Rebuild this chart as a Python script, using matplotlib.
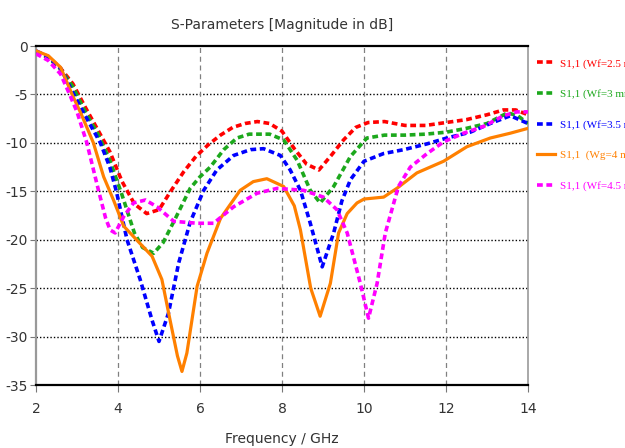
import matplotlib
matplotlib.use("Agg")
import matplotlib.pyplot as plt

# S11 curves (frequency in GHz, magnitude in dB)
f_wf25 = [2.0, 2.3, 2.6, 2.9, 3.2, 3.5, 3.8, 4.1, 4.4, 4.7, 5.0, 5.3, 5.6, 5.9, 6.2, 6.5, 6.8, 7.1,
          7.4, 7.7, 8.0, 8.3, 8.6, 8.9, 9.2, 9.5, 9.8, 10.1, 10.5, 11.0, 11.5, 12.0, 12.5, 13.0,
          13.4, 13.7, 14.0]
s_wf25 = [-0.6, -1.2, -2.3, -3.9, -6.3, -8.6, -10.9, -14.0, -16.3, -17.3, -16.9, -14.9, -13.0,
          -11.4, -10.2, -9.2, -8.4, -8.0, -7.8, -8.0, -8.8, -10.6, -12.2, -12.8, -11.3, -9.7,
          -8.4, -7.9, -7.8, -8.2, -8.2, -7.9, -7.6, -7.1, -6.6, -6.6, -7.1]

f_wf3 = [2.0, 2.3, 2.6, 2.9, 3.2, 3.5, 3.8, 4.1, 4.4, 4.6, 4.87, 5.1, 5.4, 5.76, 6.0, 6.25, 6.58,
         6.9, 7.2, 7.7, 8.04, 8.37, 8.69, 8.93, 9.26, 9.67, 10.07, 10.5, 11.0, 11.5, 12.0, 12.5,
         13.0, 13.5, 13.75, 14.0]
s_wf3 = [-0.6, -1.2, -2.4, -4.2, -6.8, -9.0, -11.8, -15.4, -19.3, -20.8, -21.4, -20.3, -17.8,
         -14.7, -13.5, -12.5, -10.7, -9.5, -9.1, -9.1, -9.7, -11.8, -14.9, -16.2, -14.5, -11.4,
         -9.5, -9.2, -9.2, -9.1, -8.9, -8.5, -8.0, -6.9, -7.2, -8.0]

f_wf35 = [2.0, 2.3, 2.6, 2.92, 3.2, 3.57, 3.8, 3.96, 4.22, 4.54, 4.83, 5.0, 5.23, 5.48, 5.76,
          6.09, 6.41, 6.82, 7.23, 7.55, 7.96, 8.2, 8.45, 8.69, 8.98, 9.26, 9.46, 9.67, 10.0,
          10.48, 10.97, 11.54, 12.02, 12.59, 13.08, 13.57, 14.0]
s_wf35 = [-0.5, -1.1, -2.3, -5.0, -7.2, -10.0, -12.5, -15.0, -20.0, -24.1, -28.3, -30.5, -27.6,
          -22.4, -18.2, -14.9, -12.8, -11.3, -10.7, -10.6, -11.3, -12.8, -14.9, -18.3, -22.8,
          -19.3, -16.0, -13.8, -11.9, -11.1, -10.7, -10.1, -9.5, -8.9, -8.0, -7.2, -8.0]

f_wg4 = [2.0, 2.3, 2.6, 2.88, 3.1, 3.4, 3.65, 3.89, 4.14, 4.54, 4.83, 5.07, 5.27, 5.45, 5.56,
         5.68, 5.93, 6.17, 6.5, 6.98, 7.3, 7.63, 8.04, 8.3, 8.45, 8.7, 8.93, 9.18, 9.38, 9.59,
         9.83, 10.0, 10.48, 10.8, 11.29, 11.94, 12.51, 13.08, 13.57, 14.0]
s_wg4 = [-0.5, -1.0, -2.2, -5.0, -7.0, -10.0, -13.5, -15.9, -18.6, -20.4, -21.7, -24.1, -28.3,
         -32.0, -33.6, -31.7, -24.8, -21.4, -17.8, -14.9, -14.0, -13.7, -14.5, -16.5, -19.0,
         -25.0, -27.9, -24.5, -19.3, -17.3, -16.2, -15.8, -15.6, -14.7, -13.1, -11.9, -10.4,
         -9.5, -9.0, -8.5]

f_wf45 = [2.0, 2.3, 2.6, 2.82, 3.0, 3.24, 3.53, 3.7, 3.81, 3.93, 4.14, 4.38, 4.67, 4.95, 5.36,
          5.93, 6.33, 6.82, 7.39, 7.88, 8.53, 9.01, 9.34, 9.59, 9.91, 10.11, 10.32, 10.52,
          10.84, 11.13, 11.54, 11.94, 12.43, 12.92, 13.4, 13.73, 14.0]
s_wf45 = [-0.8, -1.5, -2.9, -5.0, -6.8, -10.0, -15.0, -17.8, -19.0, -19.3, -17.6, -16.2, -15.9,
          -16.6, -18.1, -18.3, -18.3, -16.6, -15.2, -14.7, -14.9, -15.6, -16.9, -19.3, -24.5,
          -28.1, -24.5, -19.3, -14.5, -12.5, -11.1, -9.9, -9.0, -8.3, -7.2, -6.8, -6.8]

labels = ["S1,1 (Wf=2.5 mm)", "S1,1 (Wf=3 mm)", "S1,1 (Wf=3.5 mm)", "S1,1  (Wg=4 mm)",
          "S1,1 (Wf=4.5 mm)"]
colors = ["#ff0000", "#1ca81c", "#0000ff", "#ff8000", "#ff00ff"]

xticks = [2, 4, 6, 8, 10, 12, 14]
yticks = [0, -5, -10, -15, -20, -25, -30, -35]

fig, ax = plt.subplots(figsize=(6.25, 4.48), dpi=100)
fig.subplots_adjust(left=0.0576, right=0.8448, top=0.8973, bottom=0.1406)

series = [(f_wf25, s_wf25), (f_wf3, s_wf3), (f_wf35, s_wf35), (f_wg4, s_wg4), (f_wf45, s_wf45)]
for i, (f, s) in enumerate(series):
    if i == 3:
        ax.plot(f, s, color=colors[i], lw=2.3, label=labels[i], zorder=3)
    else:
        ax.plot(f, s, color=colors[i], lw=2.6, dashes=(1.6, 1.0), label=labels[i], zorder=3)

ax.set_xlim(2, 14)
ax.set_ylim(-35, 0)
ax.set_xticks(xticks)
ax.set_yticks(yticks)
ax.set_xticklabels([str(x) for x in xticks], fontsize=10)
ax.set_yticklabels([str(y) for y in yticks], fontsize=10)
ax.tick_params(axis="x", length=5, pad=7, color="#777777", labelcolor="#333333")
ax.tick_params(axis="y", length=4, pad=2, color="#777777", labelcolor="#333333")

# gridlines: horizontal black dotted, vertical gray dashed
for y in yticks[1:-1]:
    ax.axhline(y, color="black", lw=1.0, ls=(0, (1, 1.5)), zorder=1)
for x in xticks[1:-1]:
    ax.axvline(x, color="#808080", lw=0.9, ls=(0, (4, 3)), zorder=1)

ax.spines["top"].set_color("black")
ax.spines["top"].set_linewidth(1.6)
ax.spines["bottom"].set_color("black")
ax.spines["bottom"].set_linewidth(1.6)
ax.spines["left"].set_color("#999999")
ax.spines["left"].set_linewidth(1.6)
ax.spines["right"].set_color("#999999")
ax.spines["right"].set_linewidth(1.2)

ax.set_title("S-Parameters [Magnitude in dB]", fontsize=10, pad=12, color="#333333")
ax.set_xlabel("Frequency / GHz", fontsize=10, labelpad=12, color="#333333")

leg = ax.legend(loc="upper left", bbox_to_anchor=(1.018, 0.963), frameon=False,
                borderaxespad=0, borderpad=0, handlelength=1.6, handletextpad=0.5,
                labelspacing=1.85, prop={"family": ["Liberation Serif", "DejaVu Serif"],
                                         "size": 8})
for txt, c in zip(leg.get_texts(), colors):
    txt.set_color(c)

fig.savefig("out.png", dpi=100)
